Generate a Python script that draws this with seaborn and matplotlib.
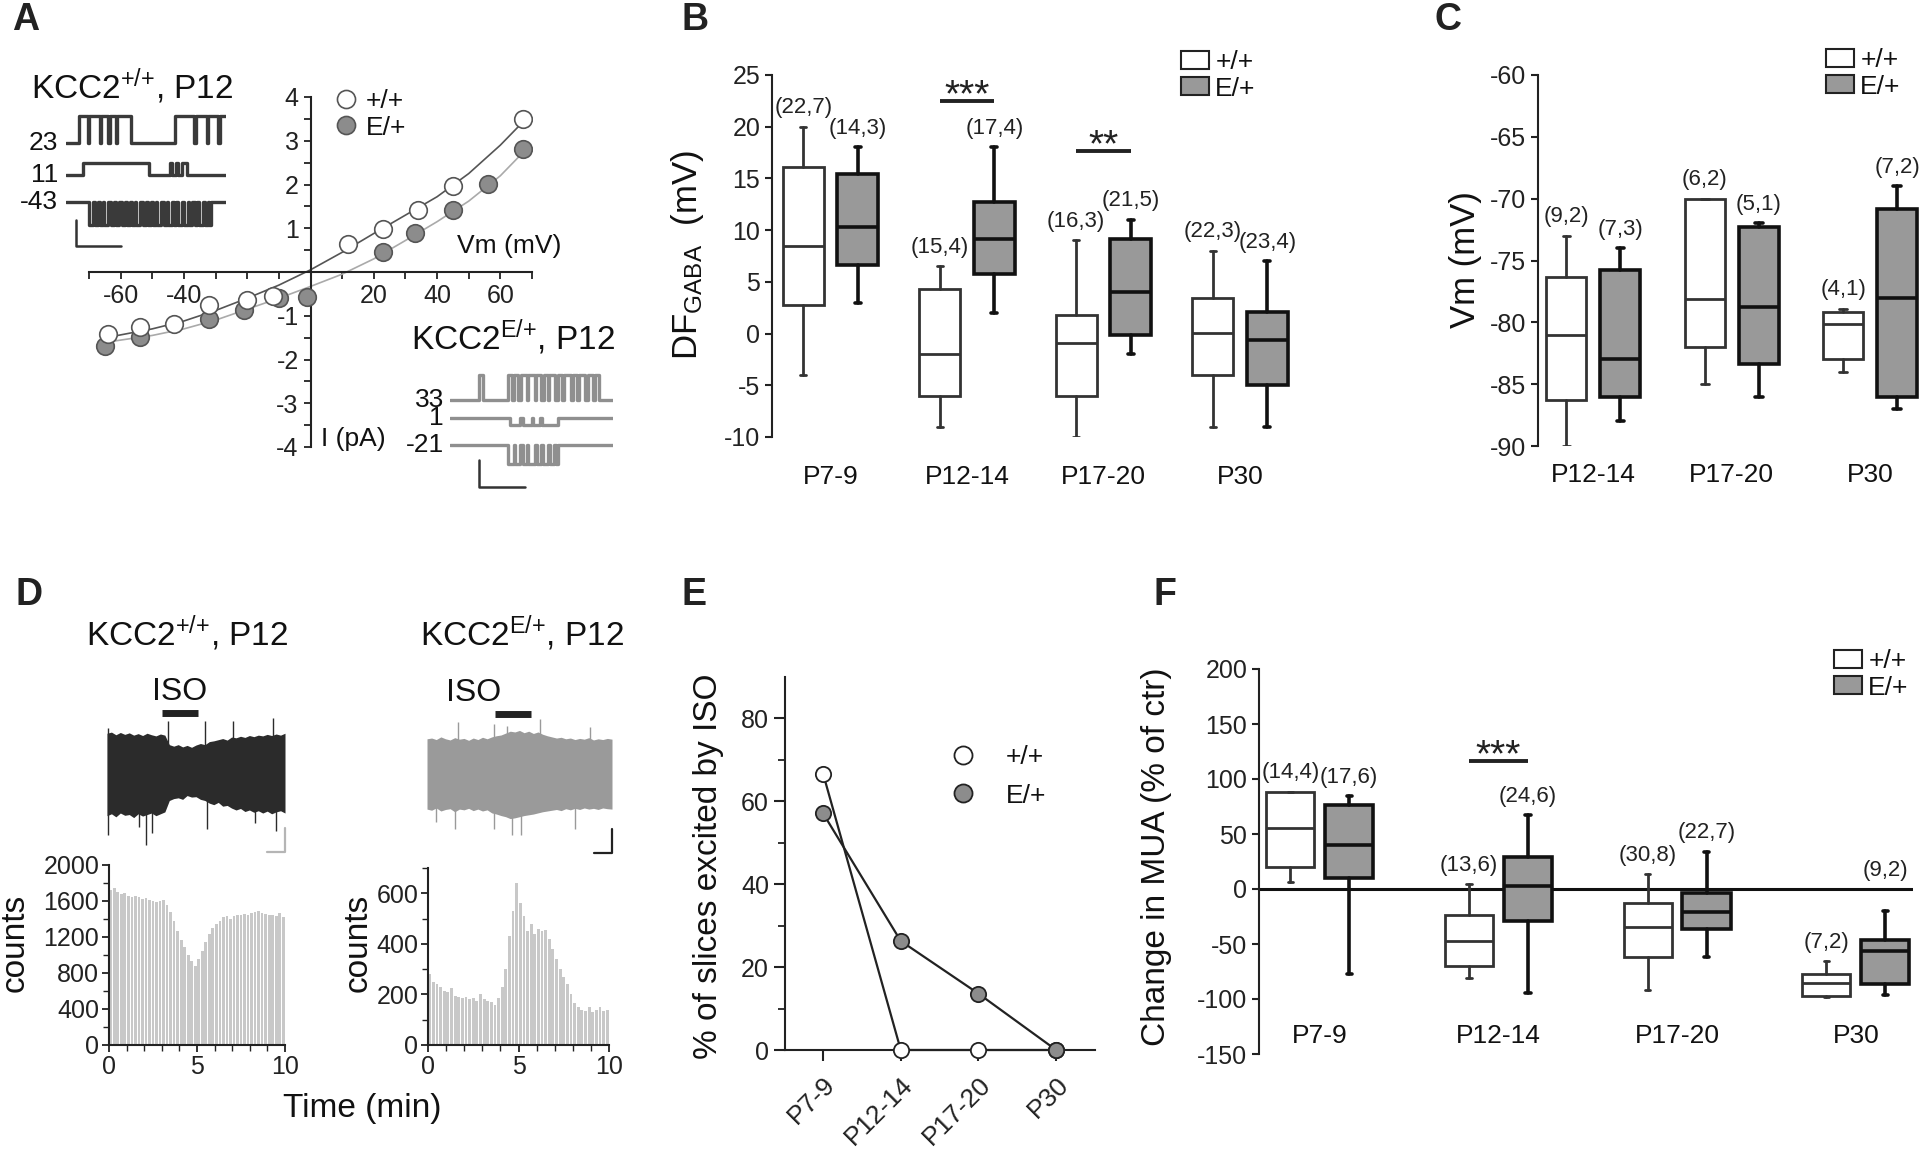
import numpy as np
import pandas as pd
import matplotlib
matplotlib.use("Agg")
import matplotlib.pyplot as plt
import seaborn as sns
from matplotlib.lines import Line2D
from matplotlib.patches import Patch

# ---------------- data ----------------
# Panel A : single-channel I-V
a_vm_wt = [-64, -54, -43, -32, -20, -12, 12, 23, 34, 45, 67]
a_i_wt = [-1.42, -1.26, -1.19, -0.76, -0.63, -0.54, 0.63, 0.99, 1.41, 1.97, 3.50]
a_vm_ef = [-65, -54, -32, -21, -10, -1, 23, 33, 45, 56, 67]
a_i_ef = [-1.68, -1.49, -1.07, -0.86, -0.59, -0.58, 0.46, 0.89, 1.41, 2.01, 2.81]
a_fit_vm = [-66, -50, -40, -30, -20, -10, 0, 10, 20, 30, 40, 50, 60, 67]
a_fit_wt = [-1.52, -1.30, -1.12, -0.88, -0.60, -0.30, 0.05, 0.45, 0.88, 1.30, 1.72, 2.25, 2.90, 3.42]
a_fit_ef = [-1.62, -1.45, -1.30, -1.10, -0.85, -0.60, -0.33, -0.05, 0.30, 0.72, 1.15, 1.62, 2.20, 2.72]

# single-channel example traces (open/close transition times, % of sweep)
a_wt_labels = ["23", "11", "-43"]
a_wt_amp = [1.0, 0.46, -0.85]
a_wt_toggles = [
    [8.1, 13.5, 14.5, 21, 22, 26, 27.5, 31, 32, 40.6, 68.1, 80, 81, 88, 89, 95, 96.5],
    [10.6, 51.9, 65, 66.5, 68.5, 70, 72.5, 75.6],
    [14.4, 17, 18, 20, 21.5, 23, 24, 26.5, 28, 30, 31, 33, 35, 37, 38, 40, 41.5, 43, 44,
     46.5, 48, 50, 51, 53, 54.5, 56, 57, 59.5, 61, 63, 64, 66, 67.5, 69, 70, 72.5, 74, 76,
     77, 79, 80.5, 82, 83, 85.5, 87, 88.5, 89.5, 90.6],
]
a_ef_labels = ["33", "1", "-21"]
a_ef_amp = [0.93, -0.26, -0.70]
a_ef_toggles = [
    [17.8, 20.2, 35.6, 38, 39, 42, 43.5, 47, 48, 52, 53, 56, 57.5, 60, 61, 64.5, 66, 69,
     70, 74, 75.5, 78, 79, 83, 84.5, 88, 89, 91.4],
    [36.8, 43, 44.5, 50, 51, 55, 56.5, 66.3],
    [35.6, 39, 40, 43, 44.5, 47, 48, 52, 53.5, 56, 57, 60, 61.5, 64, 65, 66.3],
]

# Panel B : DF_GABA
ages4 = ["P7-9", "P12-14", "P17-20", "P30"]
b_wt_whislo = [-4, -9, -10, -9]
b_wt_q1 = [2.8, -6.0, -6.0, -4.0]
b_wt_med = [8.5, -2.0, -0.9, 0.1]
b_wt_q3 = [16.1, 4.3, 1.8, 3.4]
b_wt_whishi = [20, 6.5, 9, 8]
b_ef_whislo = [3, 2, -2, -9]
b_ef_q1 = [6.6, 5.8, -0.1, -5.0]
b_ef_med = [10.3, 9.1, 4.0, -0.6]
b_ef_q3 = [15.4, 12.7, 9.1, 2.1]
b_ef_whishi = [18, 18, 11, 7]
b_wt_n = ["(22,7)", "(15,4)", "(16,3)", "(22,3)"]
b_ef_n = ["(14,3)", "(17,4)", "(21,5)", "(23,4)"]
b_sig_group = [1, 2]
b_sig_text = ["***", "**"]
b_sig_level = [22.5, 17.7]

# Panel C : Vm
ages3 = ["P12-14", "P17-20", "P30"]
c_wt_whislo = [-90, -85, -84]
c_wt_q1 = [-86.3, -82, -83]
c_wt_med = [-81, -78.1, -80.1]
c_wt_q3 = [-76.3, -70, -79.2]
c_wt_whishi = [-73, -70, -78.9]
c_ef_whislo = [-88, -86, -87]
c_ef_q1 = [-86, -83.4, -86]
c_ef_med = [-83, -78.8, -78]
c_ef_q3 = [-75.8, -72.3, -70.8]
c_ef_whishi = [-74, -72, -69]
c_wt_n = ["(9,2)", "(6,2)", "(4,1)"]
c_ef_n = ["(7,3)", "(5,1)", "(7,2)"]

# Panel D : MUA traces (envelope, arbitrary units) and count histograms (0.2 min bins)
d_env_t = [0, .25, .5, .75, 1, 1.25, 1.5, 1.75, 2, 2.25, 2.5, 2.75, 3, 3.25, 3.5, 3.75, 4,
           4.25, 4.5, 4.75, 5, 5.25, 5.5, 5.75, 6, 6.25, 6.5, 6.75, 7, 7.25, 7.5, 7.75, 8,
           8.25, 8.5, 8.75, 9, 9.25, 9.5, 9.75, 10]
d_up_wt = [1.02, 1.05, 0.98, 1.04, 0.99, 1.03, 0.97, 1.01, 0.96, 1.02, 0.98, 0.95, 1.00, 0.97,
           0.72, 0.68, 0.72, 0.66, 0.70, 0.65, 0.71, 0.75, 0.72, 0.80, 0.82, 0.85, 0.88, 0.84,
           0.92, 0.90, 0.94, 0.91, 0.96, 0.93, 0.97, 0.95, 0.99, 0.96, 1.00, 0.97, 1.02]
d_lo_wt = [1.15, 1.10, 1.18, 1.08, 1.14, 1.12, 1.20, 1.10, 1.16, 1.12, 1.08, 1.15, 1.10, 1.05,
           0.75, 0.70, 0.68, 0.72, 0.62, 0.66, 0.65, 0.72, 0.75, 0.82, 0.86, 0.80, 0.90, 0.88,
           0.95, 1.00, 0.96, 1.04, 1.00, 1.06, 1.02, 1.08, 1.03, 1.10, 1.05, 1.02, 1.08]
d_up_ef = [0.90, 0.92, 0.88, 0.95, 0.90, 0.87, 0.93, 0.89, 0.91, 0.86, 0.92, 0.88, 0.94, 0.90,
           0.95, 0.98, 1.00, 1.05, 1.10, 1.08, 1.12, 1.06, 1.10, 1.04, 1.08, 1.02, 0.98, 0.95,
           0.92, 0.94, 0.90, 0.92, 0.88, 0.91, 0.89, 0.93, 0.87, 0.90, 0.88, 0.91, 0.89]
d_lo_ef = [0.95, 0.98, 0.92, 1.00, 0.96, 0.94, 1.02, 0.95, 0.97, 0.93, 0.99, 0.95, 1.00, 0.97,
           1.05, 1.08, 1.12, 1.15, 1.20, 1.18, 1.15, 1.12, 1.10, 1.08, 1.05, 1.02, 1.00, 0.98,
           0.96, 0.99, 0.94, 0.97, 0.93, 0.96, 0.92, 0.95, 0.93, 0.96, 0.92, 0.94, 0.95]
d_spk_t_wt = [0.05, 3.43, 5.5, 7.08, 9.35, 0.07, 1.8, 2.2, 2.5, 5.6, 8.3, 9.5]
d_spk_a_wt = [1.15, 1.35, 1.35, 1.35, 1.42, -1.65, -1.45, -1.93, -1.6, -1.5, -1.35, -1.55]
d_spk_t_ef = [1.7, 3.6, 4.3, 6.1, 8.8, 0.5, 1.5, 3.6, 4.6, 5.1, 8.0]
d_spk_a_ef = [1.33, 1.3, 1.25, 1.43, 1.2, -1.3, -1.48, -1.48, -1.62, -1.62, -1.48]
d_iso_wt = [3.1, 5.1]
d_iso_ef = [3.7, 5.6]
d_counts_wt = [1720, 1740, 1700, 1680, 1690, 1660, 1650, 1660, 1640, 1620,
               1630, 1610, 1600, 1590, 1600, 1610, 1560, 1480, 1380, 1270,
               1170, 1090, 1000, 930, 880, 960, 1050, 1140, 1230, 1300,
               1350, 1380, 1420, 1430, 1400, 1430, 1450, 1440, 1460, 1450,
               1470, 1480, 1490, 1470, 1460, 1440, 1450, 1430, 1470, 1420]
d_counts_ef = [280, 250, 240, 230, 215, 210, 225, 195, 190, 185,
               190, 180, 185, 175, 200, 180, 175, 170, 160, 185,
               230, 300, 430, 530, 640, 560, 510, 450, 480, 440,
               460, 450, 455, 420, 380, 340, 300, 270, 240, 200,
               165, 150, 140, 135, 150, 130, 140, 150, 135, 140]

# Panel E : % slices excited by ISO
e_wt = [66.7, 0, 0, 0]
e_ef = [57.1, 26.3, 13.6, 0]

# Panel F : change in MUA
f_wt_whislo = [6.3, -80.5, -92.1, -98]
f_wt_q1 = [19.9, -69.9, -61.6, -97]
f_wt_med = [55.3, -47.4, -34.1, -85.4]
f_wt_q3 = [88, -23.5, -12.6, -77.2]
f_wt_whishi = [88.4, 4.6, 13.6, -65.6]
f_ef_whislo = [-77.2, -94.7, -61.6, -96]
f_ef_q1 = [9.6, -29.1, -36.8, -86.4]
f_ef_med = [39.7, 2.3, -20.9, -56.3]
f_ef_q3 = [76.8, 29.5, -3.3, -46.7]
f_ef_whishi = [84.4, 66.9, 33.8, -19.9]
f_wt_n = ["(14,4)", "(13,6)", "(30,8)", "(7,2)"]
f_ef_n = ["(17,6)", "(24,6)", "(22,7)", "(9,2)"]
f_sig_group = [1]
f_sig_text = ["***"]
f_sig_level = [116.6]

# ---------------- style ----------------
sns.set_theme(style="ticks")
plt.rcParams["font.family"] = ["Liberation Sans", "DejaVu Sans"]
plt.rcParams["mathtext.fontset"] = "custom"
plt.rcParams["mathtext.rm"] = "Liberation Sans"
plt.rcParams["mathtext.it"] = "Liberation Sans:italic"
plt.rcParams["mathtext.bf"] = "Liberation Sans:bold"
plt.rcParams["mathtext.default"] = "regular"
plt.rcParams["axes.unicode_minus"] = False
plt.rcParams["axes.edgecolor"] = "#222222"
plt.rcParams["axes.linewidth"] = 1.5
plt.rcParams["xtick.color"] = "#222222"
plt.rcParams["ytick.color"] = "#222222"
plt.rcParams["text.color"] = "#111111"

W, H = 1920, 1152
fig = plt.figure(figsize=(W / 100, H / 100), dpi=100)
fig.patch.set_facecolor("white")

WT_FACE, EF_FACE = "white", "#999999"
WT_EDGE, EF_EDGE = "#333333", "#111111"
TICK_FS = 18
CAT_FS = 19
LEG_FS = 19
N_FS = 16


def add_ax(x0, y0, x1, y1):
    return fig.add_axes([x0 / W, 1 - y1 / H, (x1 - x0) / W, (y1 - y0) / H])


def ftext(x, y, s, **kw):
    return fig.text(x / W, 1 - y / H, s, **kw)


def stats_list(lo, q1, med, q3, hi):
    return [dict(whislo=a, q1=b, med=c, q3=d, whishi=e, fliers=[])
            for a, b, c, d, e in zip(lo, q1, med, q3, hi)]


def draw_boxes(ax, wt, ef, n_wt, n_ef, off, width, capw, clear_zero=None):
    pos = np.arange(len(wt))
    for stats, sign, face, edge, lw, ns in [(wt, -1, WT_FACE, WT_EDGE, 2.0, n_wt),
                                             (ef, 1, EF_FACE, EF_EDGE, 2.6, n_ef)]:
        p = pos + sign * off
        ax.bxp(stats, positions=p, widths=width, patch_artist=True, showfliers=False,
               manage_ticks=False, capwidths=capw,
               boxprops=dict(facecolor=face, edgecolor=edge, linewidth=lw),
               medianprops=dict(color=edge, linewidth=lw),
               whiskerprops=dict(color=edge, linewidth=lw),
               capprops=dict(color=edge, linewidth=lw))
        for x, st, lab in zip(p, stats, ns):
            yb = st["whishi"]
            # keep a label clear of the zero line if it would cross it
            if clear_zero is not None and -clear_zero < yb < 0:
                yb = 0
            ax.annotate(lab, (x, yb), xytext=(0, 6), textcoords="offset points",
                        ha="center", va="bottom", fontsize=N_FS, color="#222222")


def box_legend(ax, x, y):
    handles = [Patch(facecolor=WT_FACE, edgecolor="#222222", linewidth=1.5),
               Patch(facecolor=EF_FACE, edgecolor="#222222", linewidth=1.5)]
    ax.legend(handles, ["+/+", "E/+"], loc="upper left", bbox_to_anchor=(x / W, 1 - y / H),
              bbox_transform=fig.transFigure, frameon=False, fontsize=LEG_FS,
              handlelength=1.05, handleheight=0.68, handletextpad=0.25,
              labelspacing=0.1, borderpad=0, borderaxespad=0)


def cat_labels(ax, labels, yfrac):
    for i, lab in enumerate(labels):
        ax.text(i, yfrac, lab, transform=ax.get_xaxis_transform(), ha="center",
                va="center", fontsize=CAT_FS)


def sig_bars(ax, groups, texts, levels, off):
    for g, t, lv in zip(groups, texts, levels):
        ax.plot([g - off, g + off], [lv, lv], color="#222222", lw=2.8, solid_capstyle="butt")
        ax.annotate(t, (g, lv), xytext=(0, -4), textcoords="offset points",
                    ha="center", va="baseline", fontsize=28, color="#222222")


def steps(ax, toggles, amp, base, color):
    xs, ys, state = [0], [base], 0
    for t in toggles:
        state = 1 - state
        xs.append(t)
        ys.append(base + amp * state)
    xs.append(100)
    ys.append(ys[-1])
    ax.step(xs, ys, where="post", color=color, lw=2.4)


# ---------------- panel letters ----------------
for lab, x, y in [("A", 12, 30), ("B", 681, 30), ("C", 1435, 30),
                  ("D", 15, 605), ("E", 682, 605), ("F", 1153, 605)]:
    ftext(x, y, lab, fontsize=27, fontweight="bold", ha="left", va="baseline", color="#222222")

# ---------------- Panel A ----------------
axA = add_ax(89, 97, 532, 447)
axA.set_xlim(-70, 70)
axA.set_ylim(-4, 4)
axA.spines["left"].set_position(("data", 0))
axA.spines["bottom"].set_position(("data", 0))
axA.spines[["top", "right"]].set_visible(False)
axA.set_xticks([-60, -40, 20, 40, 60])
axA.set_xticks(np.arange(-70, 71, 10), minor=True)
axA.set_yticks([-4, -3, -2, -1, 1, 2, 3, 4])
axA.set_yticks(np.arange(-4, 4.01, 0.5), minor=True)
axA.tick_params(which="both", direction="out", length=5, width=1.3, labelsize=TICK_FS)
axA.patch.set_alpha(0)
sns.lineplot(x=a_fit_vm, y=a_fit_wt, ax=axA, color="#555555", lw=1.2, sort=False)
sns.lineplot(x=a_fit_vm, y=a_fit_ef, ax=axA, color="#aaaaaa", lw=1.2, sort=False)
sns.scatterplot(x=a_vm_wt, y=a_i_wt, ax=axA, s=160, color="white", edgecolor="#555555",
                linewidth=1.2, zorder=4)
sns.scatterplot(x=a_vm_ef, y=a_i_ef, ax=axA, s=160, color="#8c8c8c", edgecolor="#555555",
                linewidth=1.2, zorder=3)
hA = [Line2D([], [], ls="", marker="o", ms=13, mfc="white", mec="#555555", mew=1.2),
      Line2D([], [], ls="", marker="o", ms=13, mfc="#8c8c8c", mec="#555555", mew=1.2)]
axA.legend(hA, ["+/+", "E/+"], loc="upper left", bbox_to_anchor=(333 / W, 1 - 89 / H),
           bbox_transform=fig.transFigure, frameon=False, fontsize=LEG_FS,
           handlelength=1.0, handletextpad=0.25, labelspacing=0.1, borderpad=0,
           borderaxespad=0)
ftext(509, 246, "Vm (mV)", ha="center", va="center", fontsize=19)
ftext(321, 439, "I (pA)", ha="left", va="center", fontsize=19)
ftext(132, 86, r"KCC2$^{+/{+}}$, P12", ha="center", va="center", fontsize=24)
ftext(513, 337, r"KCC2$^{E/{+}}$, P12", ha="center", va="center", fontsize=24)

# traces +/+
axTw = add_ax(66, 100, 226, 250)
axTw.set_xlim(0, 100)
axTw.set_ylim(-3.963, 1.593)
axTw.axis("off")
for base, amp, tog, lab in zip([0, -1.19, -2.19], a_wt_amp, a_wt_toggles, a_wt_labels):
    steps(axTw, tog, amp, base, "#3a3a3a")
    axTw.text(-5, base, lab, ha="right", va="center", fontsize=19)
axTw.plot([6.25, 6.25, 34.4], [-2.85, -3.81, -3.81], color="#333333", lw=1.8)

# traces E/+
axTe = add_ax(450, 360, 613, 495)
axTe.set_xlim(0, 100)
axTe.set_ylim(-3.519, 1.481)
axTe.axis("off")
for base, amp, tog, lab in zip([0, -0.667, -1.667], a_ef_amp, a_ef_toggles, a_ef_labels):
    steps(axTe, tog, amp, base, "#8f8f8f")
    axTe.text(-3.7, base, lab, ha="right", va="center", fontsize=19)
axTe.plot([17.8, 17.8, 46], [-2.22, -3.22, -3.22], color="#333333", lw=1.8)

# ---------------- Panel B ----------------
axB = add_ax(772, 75, 1300, 437)
axB.set_xlim(-0.43, 3.44)
axB.set_ylim(-10, 25)
axB.spines[["top", "right", "bottom"]].set_visible(False)
axB.set_xticks([])
axB.set_yticks(np.arange(-10, 26, 5))
axB.tick_params(axis="y", direction="out", length=5, width=1.5, labelsize=TICK_FS)
draw_boxes(axB, stats_list(b_wt_whislo, b_wt_q1, b_wt_med, b_wt_q3, b_wt_whishi),
           stats_list(b_ef_whislo, b_ef_q1, b_ef_med, b_ef_q3, b_ef_whishi),
           b_wt_n, b_ef_n, 0.2, 0.30, 0.045)
sig_bars(axB, b_sig_group, b_sig_text, b_sig_level, 0.2)
cat_labels(axB, ages4, -0.11)
box_legend(axB, 1181, 50)
ftext(688, 255, r"DF$_{GABA}$  (mV)", rotation=90, ha="center", va="center", fontsize=25)

# ---------------- Panel C ----------------
axC = add_ax(1538, 75, 1920, 446)
axC.set_xlim(-0.40, 2.36)
axC.set_ylim(-90, -60)
axC.spines[["top", "right", "bottom"]].set_visible(False)
axC.set_xticks([])
axC.set_yticks(np.arange(-90, -59, 5))
axC.tick_params(axis="y", direction="out", length=5, width=1.5, labelsize=TICK_FS)
draw_boxes(axC, stats_list(c_wt_whislo, c_wt_q1, c_wt_med, c_wt_q3, c_wt_whishi),
           stats_list(c_ef_whislo, c_ef_q1, c_ef_med, c_ef_q3, c_ef_whishi),
           c_wt_n, c_ef_n, 0.195, 0.29, 0.055)
cat_labels(axC, ages3, -0.078)
box_legend(axC, 1826, 48)
ftext(1466, 260, "Vm (mV)", rotation=90, ha="center", va="center", fontsize=25)

# ---------------- Panel D ----------------
for (x0, x1, cy, up, lo, st, sa, iso, col, iso_t, sbcol) in [
        (107, 285, 772, d_up_wt, d_lo_wt, d_spk_t_wt, d_spk_a_wt, d_iso_wt, "#2b2b2b", 4.05, "#b5b5b5"),
        (427, 612, 773, d_up_ef, d_lo_ef, d_spk_t_ef, d_spk_a_ef, d_iso_ef, "#9a9a9a", 2.49, "#222222")]:
    axt = add_ax(x0, cy - 83.6, x1, cy + 83.6)
    axt.set_xlim(0, 10)
    axt.set_ylim(-2.2, 2.2)
    axt.axis("off")
    axt.fill_between(d_env_t, -np.array(lo), up, color=col, lw=0)
    axt.vlines(st, 0, sa, color=col, lw=1.0)
    axt.plot(iso, [1.56, 1.56], color="#222222", lw=5, solid_capstyle="butt")
    axt.text(iso_t, 2.1, "ISO", ha="center", va="center", fontsize=23)
    axt.plot([10, 10, 9.0], [-1.47, -2.1, -2.1], color=sbcol, lw=1.6, clip_on=False)

bin_mid = np.arange(0.1, 10, 0.2)
axD1 = add_ax(109, 865, 285, 1045)
sns.histplot(data=pd.DataFrame({"t": bin_mid, "n": d_counts_wt}), x="t", weights="n",
             binwidth=0.2, binrange=(0, 10), ax=axD1, color="#c8c8c8",
             edgecolor="none", alpha=1, shrink=0.78)
axD1.set_xlim(0, 10)
axD1.set_ylim(0, 2000)
axD1.set_yticks(np.arange(0, 2001, 400))
axD1.set_yticks(np.arange(0, 2001, 200), minor=True)
axD2 = add_ax(428, 868, 609, 1045)
sns.histplot(data=pd.DataFrame({"t": bin_mid, "n": d_counts_ef}), x="t", weights="n",
             binwidth=0.2, binrange=(0, 10), ax=axD2, color="#c8c8c8",
             edgecolor="none", alpha=1, shrink=0.78)
axD2.set_xlim(0, 10)
axD2.set_ylim(0, 700)
axD2.set_yticks([0, 200, 400, 600])
axD2.set_yticks(np.arange(0, 701, 100), minor=True)
for ax in (axD1, axD2):
    ax.set_xticks([0, 5, 10])
    ax.set_xticks(np.arange(0, 11, 1), minor=True)
    ax.set_xlabel("")
    ax.set_ylabel("")
    ax.spines[["top", "right"]].set_visible(False)
    ax.tick_params(which="major", direction="out", length=5, width=1.3, labelsize=TICK_FS, pad=2)
    ax.tick_params(which="minor", direction="out", length=4, width=1.0)
ftext(15, 943, "counts", rotation=90, ha="center", va="center", fontsize=24)
ftext(358, 943, "counts", rotation=90, ha="center", va="center", fontsize=24)
ftext(362, 1109, "Time (min)", ha="center", va="center", fontsize=24)
ftext(187, 633, r"KCC2$^{+/{+}}$, P12", ha="center", va="center", fontsize=24)
ftext(522, 633, r"KCC2$^{E/{+}}$, P12", ha="center", va="center", fontsize=24)

# ---------------- Panel E ----------------
axE = add_ax(785, 677, 1095, 1050)
idx4 = np.arange(len(ages4))
sns.lineplot(x=idx4, y=e_wt, ax=axE, color="#222222", lw=1.6, marker="o", markersize=11,
             markerfacecolor="white", markeredgecolor="#222222", markeredgewidth=1.3,
             clip_on=False, zorder=3)
sns.lineplot(x=idx4, y=e_ef, ax=axE, color="#222222", lw=1.6, marker="o", markersize=11,
             markerfacecolor="#8c8c8c", markeredgecolor="#222222", markeredgewidth=1.3,
             clip_on=False, zorder=4)
axE.set_xlim(-0.49, 3.5)
axE.set_ylim(0, 90)
axE.spines[["top", "right"]].set_visible(False)
axE.set_yticks([0, 20, 40, 60, 80])
axE.set_yticks([10, 30, 50, 70], minor=True)
axE.set_xticks(idx4)
axE.set_xticklabels(ages4, rotation=45, ha="right", rotation_mode="anchor", fontsize=CAT_FS)
axE.tick_params(which="major", direction="out", length=8, width=1.5, labelsize=TICK_FS)
axE.tick_params(which="minor", direction="out", length=5, width=1.3)
axE.tick_params(axis="x", labelsize=CAT_FS, pad=8)
hE = [Line2D([], [], ls="", marker="o", ms=13, mfc="white", mec="#222222", mew=1.3),
      Line2D([], [], ls="", marker="o", ms=13, mfc="#8c8c8c", mec="#222222", mew=1.3)]
axE.legend(hE, ["+/+", "E/+"], loc="upper left", bbox_to_anchor=(950 / W, 1 - 745 / H),
           bbox_transform=fig.transFigure, frameon=False, fontsize=LEG_FS,
           handlelength=1.0, handletextpad=1.1, labelspacing=0.55, borderpad=0,
           borderaxespad=0)
ftext(708, 866, "% of slices excited by ISO", rotation=90, ha="center", va="center",
      fontsize=24)

# ---------------- Panel F ----------------
axF = add_ax(1259, 669, 1913, 1054)
axF.set_xlim(-0.34, 3.32)
axF.set_ylim(-150, 200)
axF.axhline(0, color="#111111", lw=2.2, zorder=1)
axF.spines[["top", "right", "bottom"]].set_visible(False)
axF.set_xticks([])
axF.set_yticks(np.arange(-150, 201, 50))
axF.tick_params(axis="y", direction="out", length=5, width=1.5, labelsize=TICK_FS)
draw_boxes(axF, stats_list(f_wt_whislo, f_wt_q1, f_wt_med, f_wt_q3, f_wt_whishi),
           stats_list(f_ef_whislo, f_ef_q1, f_ef_med, f_ef_q3, f_ef_whishi),
           f_wt_n, f_ef_n, 0.165, 0.27, 0.03, clear_zero=30)
sig_bars(axF, f_sig_group, f_sig_text, f_sig_level, 0.165)
cat_labels(axF, ages4, 0.047)
box_legend(axF, 1834, 649)
ftext(1156, 857, "Change in MUA (% of ctr)", rotation=90, ha="center", va="center",
      fontsize=24)

fig.savefig("out.png", dpi=100, facecolor="white")
